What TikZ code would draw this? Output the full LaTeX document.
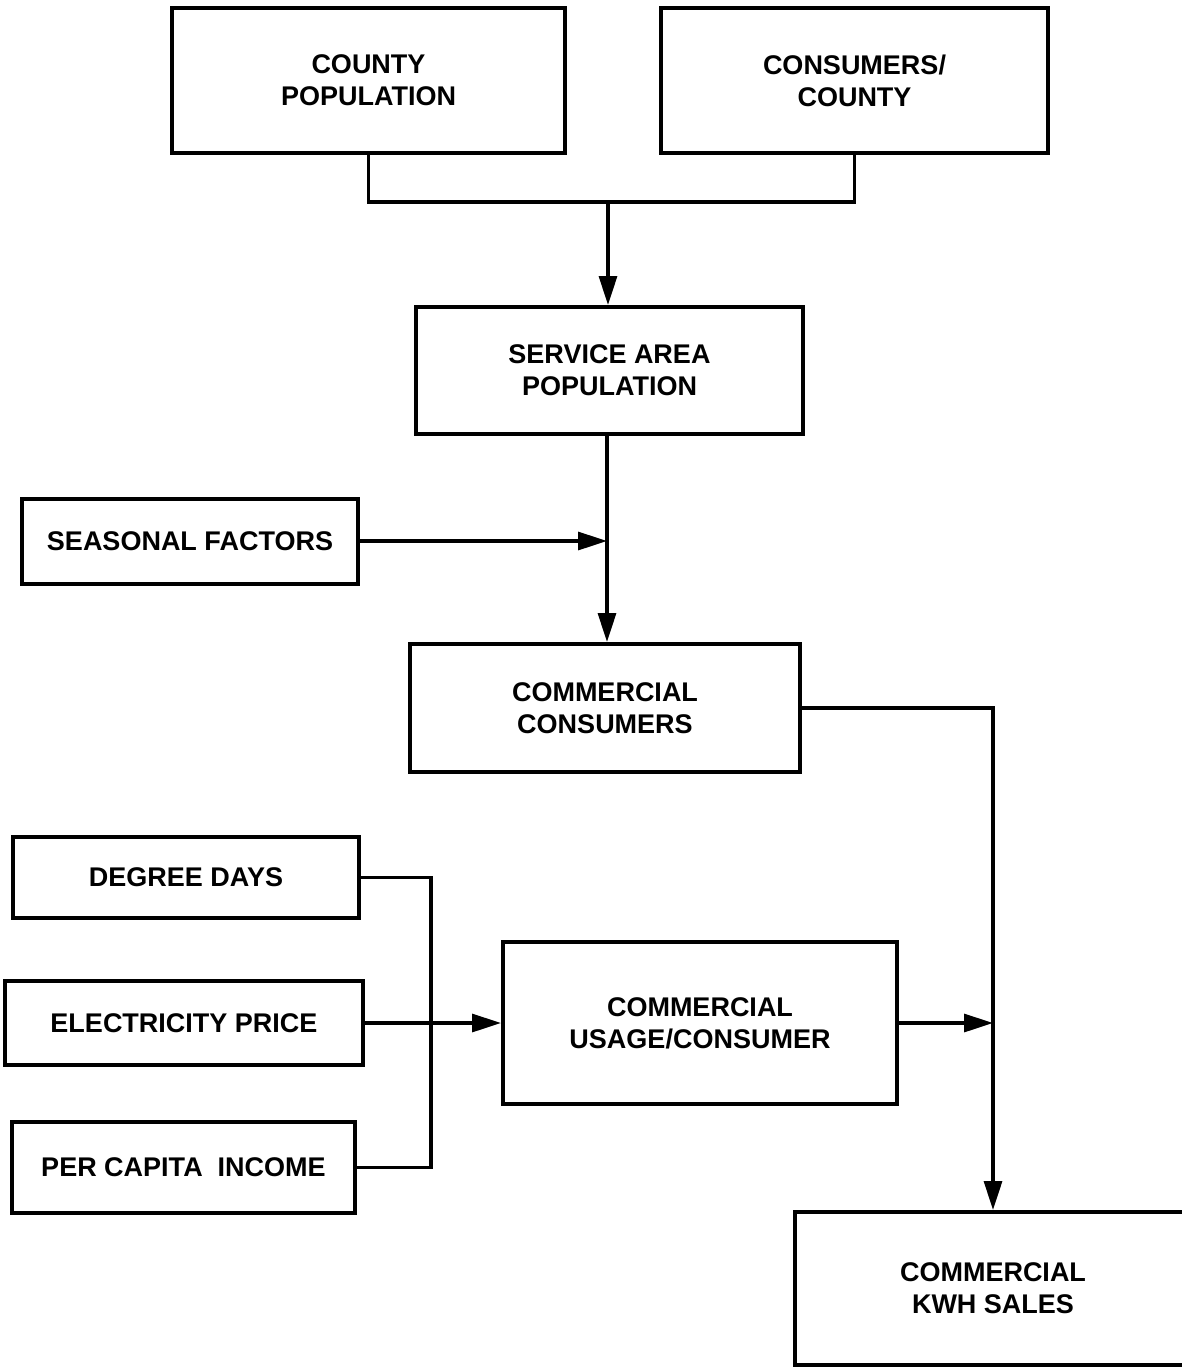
\documentclass[tikz,border=0pt]{standalone}
\usepackage{fontspec}
\setmainfont{Liberation Sans}
\usetikzlibrary{arrows.meta}

\tikzset{
  block/.style={draw=black, line width=4pt, fill=white, align=center,
    inner sep=0pt, font=\fontsize{27}{32}\selectfont\bfseries},
  conn/.style={draw=black, line width=3.2pt},
  flow/.style={conn, -{Triangle[length=29pt,width=18pt]}}
}

\begin{document}
\begin{tikzpicture}[x=1pt, y=-1pt]
  \useasboundingbox (0,0) rectangle (1182,1368);
  \clip (0,0) rectangle (1182,1368);

  % guide lines for shared vertical runs
  \coordinate (spine) at (607,0);
  \coordinate (bus) at (431,0);
  \coordinate (join) at (608,202);

  % boxes
  \node[block, minimum width=393pt, minimum height=145pt] (cp) at (368.5,80.5) {COUNTY\\POPULATION};
  \node[block, minimum width=387pt, minimum height=145pt] (cc) at (854.5,80.5) {CONSUMERS/\\COUNTY};
  \node[block, minimum width=387pt, minimum height=127pt] (sa) at (609.5,370.5) {SERVICE AREA\\POPULATION};
  \node[block, minimum width=336pt, minimum height=85pt] (ss) at (190,541) {SEASONAL FACTORS};
  \node[block, minimum width=390pt, minimum height=128pt] (ccons) at (605,708) {COMMERCIAL\\CONSUMERS};
  \node[block, minimum width=346pt, minimum height=81pt] (dd) at (186,877.5) {DEGREE DAYS};
  \node[block, minimum width=358pt, minimum height=84pt] (ep) at (184,1023) {ELECTRICITY PRICE};
  \node[block, minimum width=343pt, minimum height=91pt] (pci) at (183.5,1167.5) {PER CAPITA\ \ INCOME};
  \node[block, minimum width=394pt, minimum height=162pt] (use) at (700,1023) {COMMERCIAL\\USAGE/CONSUMER};
  \node[block, minimum width=396pt, minimum height=153pt] (kwh) at (993,1288.5) {COMMERCIAL\\KWH SALES};

  % population inputs merge into the service area
  \draw[conn] (cp.south) |- (join) -| (cc.south);
  \draw[flow] (join) -- (join |- sa.north);

  % service area -> commercial consumers, with seasonal factors joining
  \draw[flow] (spine |- sa.south) -- (spine |- ccons.north);
  \draw[flow] (ss.east) -- (ss.east -| spine);

  % usage drivers
  \draw[conn] (dd.east) -| (bus |- pci.east) -- (pci.east);
  \draw[flow] (ep.east) -- (use.west);

  % consumers and usage combine into sales
  \draw[flow] (ccons.east) -| (kwh.north);
  \draw[flow] (use.east) -- (use.east -| kwh.north);
\end{tikzpicture}
\end{document}
